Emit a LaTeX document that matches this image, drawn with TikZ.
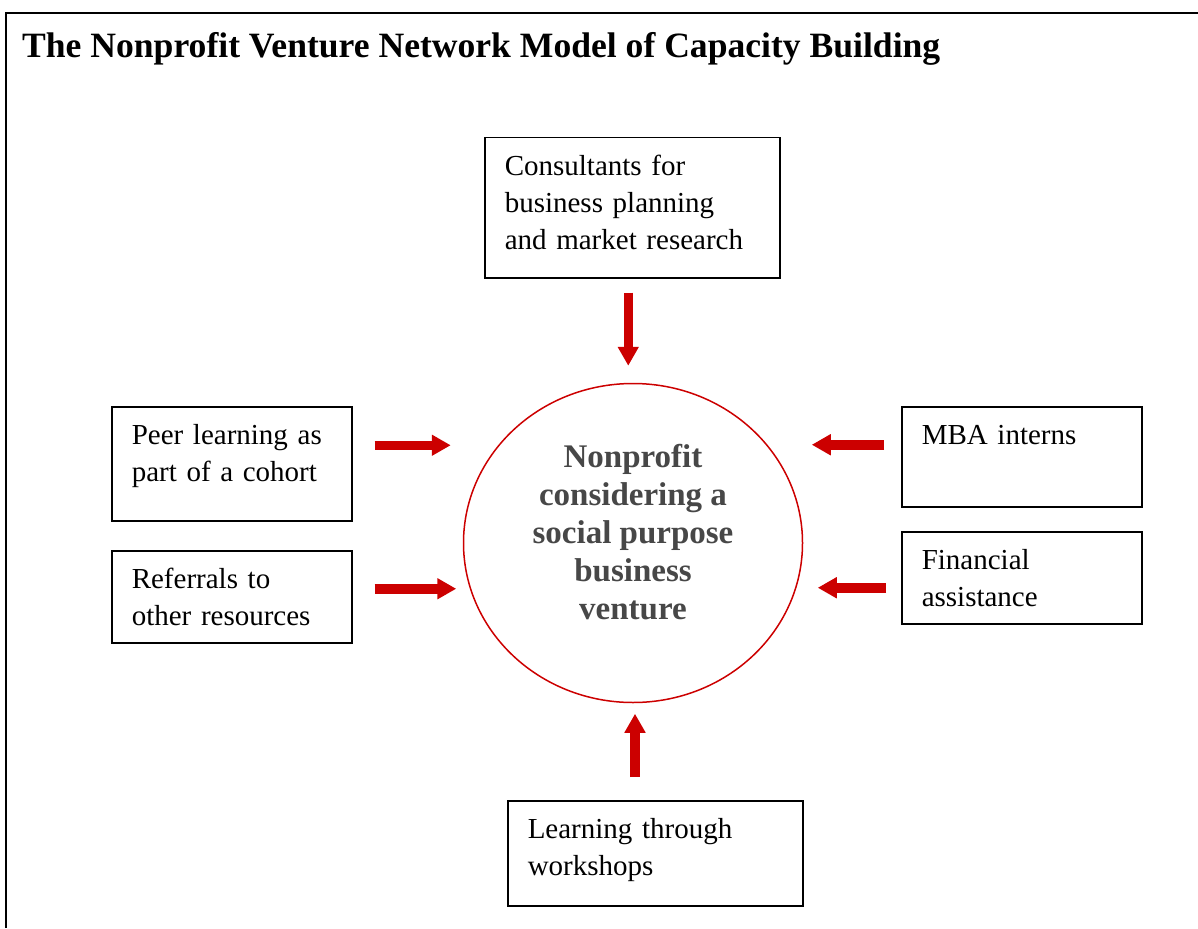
\documentclass[tikz,border=0pt]{standalone}
\usepackage{fontspec}
\setmainfont{Liberation Serif}
\usetikzlibrary{arrows.meta, shapes.geometric}
\definecolor{ventred}{HTML}{CC0000}
\definecolor{ventgray}{HTML}{474747}

\begin{document}
\begin{tikzpicture}[
    x=1pt, y=-1pt,
    box/.style={draw, line width=1.5pt, anchor=north west, inner xsep=20pt, inner ysep=0pt, text height=38pt, align=left, font=\fontsize{29}{37}\selectfont},
    flow/.style={-{Triangle[width=20pt, length=19pt]}, line width=9.5pt, ventred},
    hub/.style={draw=ventred, line width=1.5pt, ellipse, minimum width=339pt, minimum height=319pt, inner sep=0pt},
    hubtext/.style={align=center, text=ventgray, font=\fontsize{33}{38}\selectfont\bfseries}]
\useasboundingbox (0,0) rectangle (1198,928);

% Frame and title
\draw[line width=2.5pt] (6,928) -- (6,13) -- (1198,13);
\node[anchor=base west, inner sep=0pt, font=\fontsize{35.6}{40}\selectfont\bfseries] (title) at (22,58) {The Nonprofit Venture Network Model of Capacity Building};

% Venture in the middle
\node[hub] (venture) at (633,543) {};
\node[hubtext] (venturetext) at (633,532) {Nonprofit\\considering a\\social purpose\\business\\venture};

% Resources
\node[box, text width=255pt, text depth=102pt] (consult) at (484,137) {Consultants for\\business planning\\and market research};
\node[box, text width=200pt, text depth=76pt] (peer) at (111,406) {Peer learning as\\part of a cohort};
\node[box, text width=200pt, text depth=54pt] (refer) at (111,550) {Referrals to\\other resources};
\node[box, text width=200pt, text depth=62pt] (mba) at (901,406) {MBA interns};
\node[box, text width=200pt, text depth=54pt] (finance) at (901,531) {Financial\\assistance};
\node[box, text width=255pt, text depth=67pt] (learn) at (507,800) {Learning through\\workshops};

% Arrows into the venture
\coordinate (consultout) at ([xshift=-4pt]consult.south);
\coordinate (peerout) at ([yshift=18.5pt]peer.east);
\coordinate (referout) at ([yshift=8pt]refer.east);
\coordinate (mbaout) at ([yshift=12pt]mba.west);
\coordinate (financeout) at ([yshift=-10pt]finance.west);
\coordinate (learnout) at ([xshift=2pt]learn.north -| venture.south);
\draw[flow, shorten <=14pt, shorten >=17pt] (consultout) -- (consultout |- venture.north);
\draw[flow, shorten <=22pt, shorten >=12pt] (peerout) -- (peerout -| venture.west);
\draw[flow, shorten <=22pt, shorten >=6.5pt] (referout) -- (referout -| venture.west);
\draw[flow, shorten <=17pt, shorten >=8.5pt] (mbaout) -- (mbaout -| venture.east);
\draw[flow, shorten <=15pt, shorten >=14.5pt] (financeout) -- (financeout -| venture.east);
\draw[flow, shorten <=23pt, shorten >=10.5pt] (learnout) -- (learnout |- venture.south);
\end{tikzpicture}
\end{document}
